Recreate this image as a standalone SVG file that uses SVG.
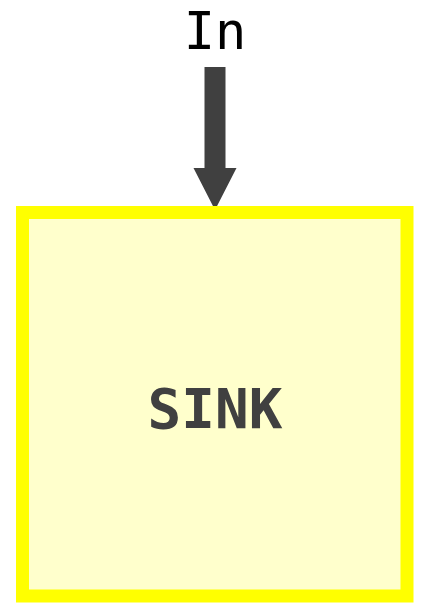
<svg xmlns="http://www.w3.org/2000/svg" width="421" height="603" viewBox="0 0 421 603">
<style>
text{font-family:"DejaVu Sans Mono","Liberation Mono",monospace;text-anchor:middle}
.lbl{font-size:52px;fill:#000}
.nodelbl{font-size:56px;font-weight:bold;fill:#404040}
.box{fill:#ffffcc;stroke:#ffff00;stroke-width:13}
</style>
<g id="connectors">
<path d="M204.5 67 H225.5 V168 H236.5 L215 210 L193.5 168 H204.5 Z" fill="#404040"/>
<text class="lbl" x="215" y="48.5">In</text>
</g>
<g id="sink">
<rect class="box" x="22.5" y="212.5" width="384.5" height="383.5"/>
<text class="nodelbl" x="215" y="428">SINK</text>
</g>
</svg>
